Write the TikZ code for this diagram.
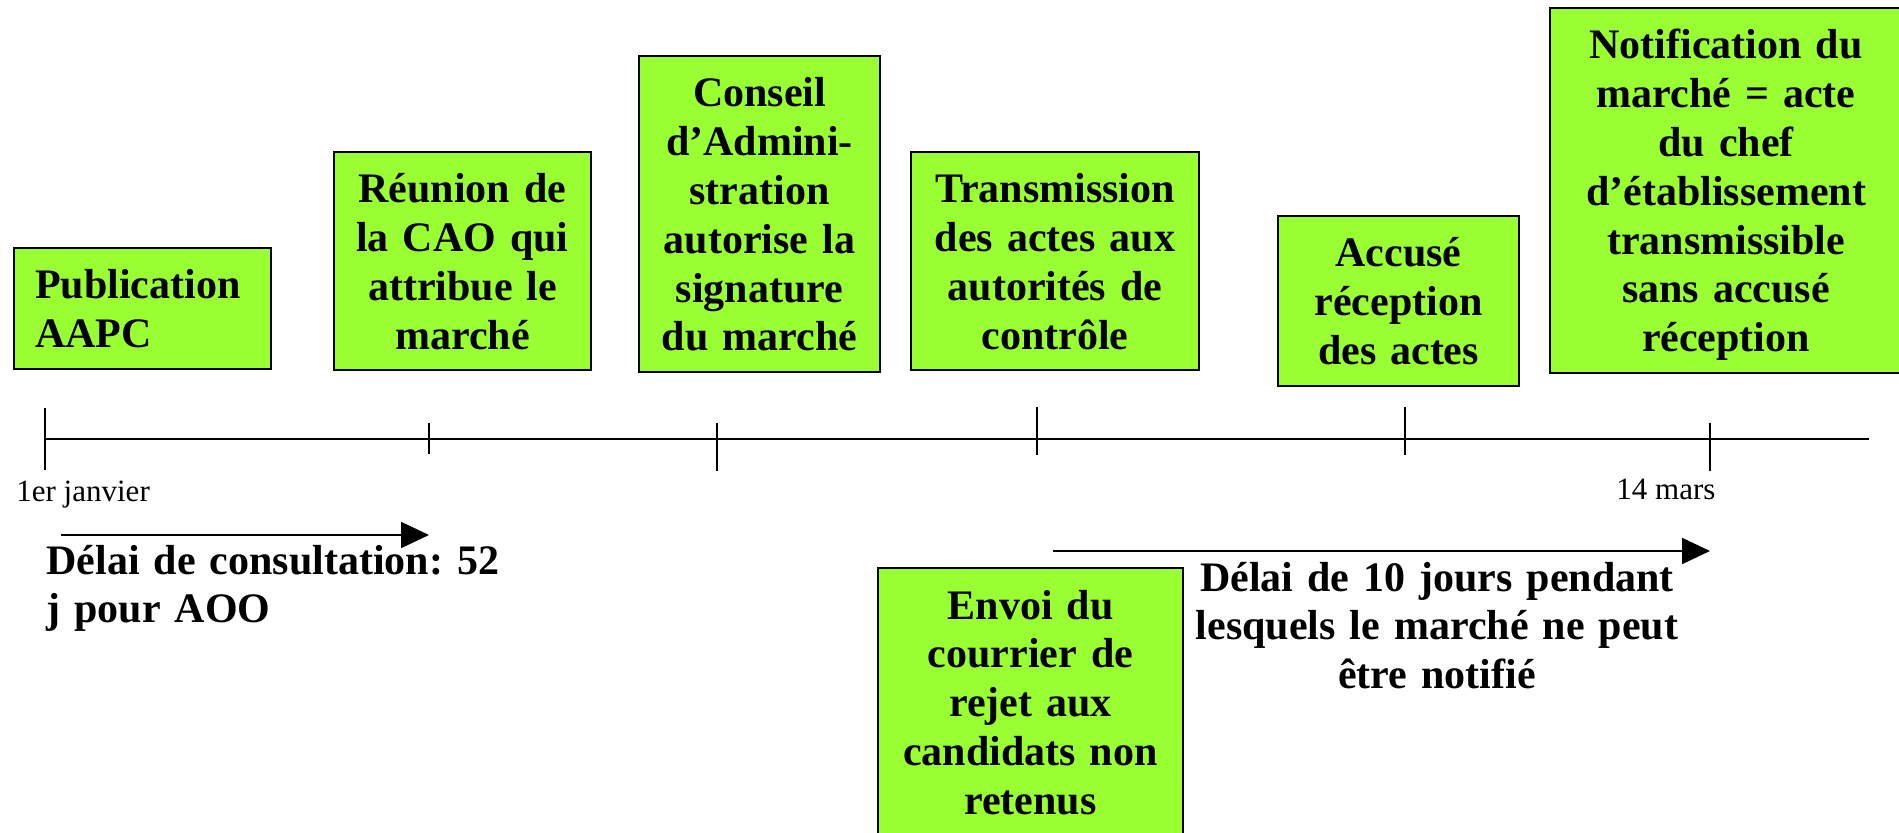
\documentclass[tikz,border=0pt]{standalone}
\usepackage{fontspec}
\setmainfont{Liberation Serif}
\usetikzlibrary{arrows.meta}
\definecolor{stagegreen}{HTML}{99FF33}
\newcommand{\stagefont}{\fontsize{21pt}{24.4pt}\selectfont\bfseries}
\newcommand{\datefont}{\fontsize{15.5pt}{18pt}\selectfont}
\frenchspacing

\begin{document}
\begin{tikzpicture}[x=0.5pt,y=-0.5pt,
    stage/.style={draw,fill=stagegreen,line width=1pt,font=\stagefont,
      align=center,inner xsep=0pt,inner ysep=0pt,text height=25.5pt,
      anchor=north west,text width=#1},
    nlines/.code={\pgfmathsetlengthmacro\stagedepth{10.5pt+(#1-1)*24.4pt}%
      \tikzset{text depth=\stagedepth}},
    axis/.style={line width=0.8pt},
    delay/.style={line width=1pt,-{Triangle[length=14pt,width=13pt]}},
    note/.style={font=\stagefont,inner sep=0pt,text width=#1}]
    \useasboundingbox (0,0) rectangle (1899,833);

    % etapes
    \node[stage=107.5pt,nlines=2,align=left,inner xsep=10.5pt] (aapc) at (13,247) {Publication\\AAPC};
    \node[stage=128.5pt,nlines=4] (cao) at (333,151) {Réunion de\\la CAO qui\\attribue le\\marché};
    \node[stage=120.5pt,nlines=6] (conseil) at (638,55) {Conseil\\d’Admini-\\stration\\autorise la\\signature\\du marché};
    \node[stage=144pt,nlines=4] (transmission) at (910,151) {Transmission\\des actes aux\\autorités de\\contrôle};
    \node[stage=120.5pt,nlines=3] (accuse) at (1277,215) {Accusé\\réception\\des actes};
    \node[stage=176pt,nlines=7] (notification) at (1549,7) {Notification du\\marché = acte\\du chef\\d’établissement\\transmissible\\sans accusé\\réception};
    \node[stage=152.5pt,nlines=5] (rejet) at (877,567) {Envoi du\\courrier de\\rejet aux\\candidats non\\retenus};

    % axe du temps
    \foreach \i/\x/\a/\b in {1/45/408/470, 2/429/423/454, 3/717/423/471,
                             4/1037/407/455, 5/1405/407/455, 6/1710/423/471} {
      \coordinate (t\i) at (\x,439);
      \draw[axis] (\x,\a) -- (\x,\b);
    }
    \coordinate (axisend) at (1869,439);
    \draw[axis] (t1) -- (axisend);
    \node[font=\datefont,inner sep=0pt,anchor=base west] (janvier) at (16,502) {1er janvier};
    \node[font=\datefont,inner sep=0pt,anchor=base west] (mars) at (1616,500) {14 mars};

    % delais
    \coordinate (consultstart) at (61,535);
    \coordinate (consultend) at (t2 |- consultstart);
    \draw[delay] (consultstart) -- (consultend);
    \node[note=280pt,align=left,anchor=base west] (consultation) at (46,574) {Délai de consultation: 52\\j pour AOO};

    \coordinate (attentestart) at (1053,551);
    \coordinate (attenteend) at (t6 |- attentestart);
    \draw[delay] (attentestart) -- (attenteend);
    \node[note=260pt,align=center,anchor=base] (attente) at (1437,591) {Délai de 10 jours pendant\\lesquels le marché ne peut\\être notifié};
\end{tikzpicture}
\end{document}
